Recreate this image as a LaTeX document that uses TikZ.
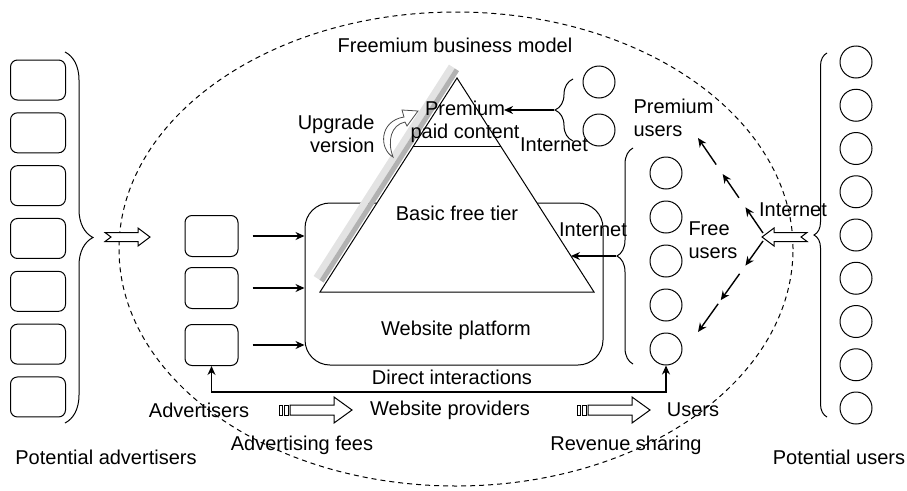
\documentclass[tikz,border=0pt]{standalone}
\usepackage{fontspec}
\setmainfont{Liberation Sans}
\usetikzlibrary{arrows.meta,calc,decorations.pathreplacing}

\begin{document}
\begin{tikzpicture}[
    x=1pt, y=-1pt,
    line width=1pt,
    lbl/.style={font=\fontsize{20}{23}\selectfont, inner sep=0pt, align=center},
    advbox/.style={draw, rounded corners=7pt, minimum width=55pt, minimum height=40pt},
    usr/.style={draw, circle, minimum size=32pt, inner sep=0pt},
    arr/.style={-{Stealth[length=9pt,width=8pt]}, line width=1.4pt},
    brc/.style={decorate, decoration={brace, amplitude=#1}},
    notcharrow/.pic={
        \draw[fill=white] (0,-4.5) -- (33,-4.5) -- (33,-9) -- (45,0) -- (33,9)
            -- (33,4.5) -- (0,4.5) -- (6,0) -- cycle;
    },
    barrow/.pic={
        \draw (0,-5) rectangle (3,5);
        \draw (5,-5) rectangle (9,5);
        \draw[fill=white] (11,-5) -- (55,-5) -- (55,-13) -- (73,0) -- (55,13)
            -- (55,5) -- (11,5) -- cycle;
    }
]
\useasboundingbox (0,0) rectangle (907,490);

% business model boundary
\draw[dashed, dash pattern=on 5pt off 4pt] (456,249) ellipse [x radius=337pt, y radius=237pt];
\node[lbl] (title) at (455,45) {Freemium business model};

% potential advertisers
\foreach \i in {0,...,6}
    \node[advbox] (pa\i) at (38,80+52.83*\i) {};
\draw[brc=28pt] (65,52) -- (65,423);
\pic at (105,237) {notcharrow};
\node[lbl] (potadv) at (106,457) {Potential advertisers};

% advertisers
\node[advbox, minimum width=53pt, minimum height=41pt] (ad1) at (211.5,236) {};
\node[advbox, minimum width=53pt, minimum height=41pt] (ad2) at (211.5,288) {};
\node[advbox, minimum width=53pt, minimum height=41pt] (ad3) at (211.5,345) {};

% website platform
\node[draw, rounded corners=25pt, minimum width=298pt, minimum height=162pt] (plat) at (454,284) {};
\foreach \i in {1,2,3}
    \draw[arr] ([xshift=14pt]ad\i.east) -- (ad\i.east -| plat.west);

% tiers
\coordinate (bl) at (320,292);
\coordinate (br) at (594,292);
\coordinate (apex) at (457,78);
\draw[gray!22, line width=7pt] (316.6,277.9) -- (451.9,66.5);
\draw[gray!60, line width=5pt] (321.6,281.2) -- (456.9,69.8);
\draw[fill=white] (bl) -- (apex) -- (br) -- cycle;
\draw ($(bl)!0.682!(apex)$) -- ($(br)!0.682!(apex)$);
\draw[gray!60!black, fill=white, line width=0.8pt] (393,157)
    .. controls (379,149) and (379,121) .. (404,117) -- (402,110) -- (418,111)
    -- (407,126) -- (405,122) .. controls (391,125) and (387,141) .. (393,157) -- cycle;

\node[lbl, align=right, anchor=east] (upg) at (375,133.5) {Upgrade\\version};
\node[lbl] (pcont) at (465,121.5) {Premium\\paid content};
\node[lbl] (basic) at (457,213) {Basic free tier};
\node[lbl] (platlbl) at (456,330) {Website platform};

% premium users
\node[usr] (pc1) at (599,82) {};
\node[usr] (pc2) at (599,130) {};
\draw[brc=18pt] (573,141) -- (573,79);
\coordinate (ptip) at (554,110);
\coordinate (pend) at (504,110);
\draw[arr] (ptip) -- (pend);
\node[lbl] (pinet) at (554,145) {Internet};
\node[lbl, align=left, anchor=west] (pusers) at (633,118) {Premium\\users};

% free users
\foreach \i in {0,...,4}
    \node[usr] (fc\i) at (666,173+44*\i) {};
\draw[brc=16pt] (633,364) -- (633,148);
\coordinate (ftip) at (616,256);
\coordinate (fend) at ($(br)!0.168!(apex)$);
\draw[arr] (ftip) -- (ftip -| fend);
\node[lbl] (finet) at (593,230) {Internet};
\node[lbl, align=left, anchor=west] (fusers) at (688,240) {Free\\users};

% potential users
\foreach \i in {0,...,8}
    \node[usr] (uc\i) at (856,62+43.25*\i) {};
\draw[brc=13pt] (827,417) -- (827,53);
\pic[rotate=180] at (807,237) {notcharrow};
\node[lbl] (uinet) at (793,210) {Internet};
\node[lbl] (potusr) at (839,457) {Potential users};

% spreading to users
\coordinate (hub) at (763,233);
\coordinate (hubd) at (763,241);
\coordinate (pu) at (698,138);
\coordinate (fu) at (698,332);
\foreach \a/\b in {0/0.27,0.37/0.62,0.72/1}
    \draw[arr] ($(hub)!\a!(pu)$) -- ($(hub)!\b!(pu)$);
\foreach \a/\b in {0/0.27,0.36/0.65,0.69/1}
    \draw[arr] ($(hubd)!\a!(fu)$) -- ($(hubd)!\b!(fu)$);

% direct interactions
\draw[{Stealth[length=9pt,width=8pt]}-{Stealth[length=9pt,width=8pt]}, line width=1.2pt]
    (ad3.south) -- ++(0,26) -| (fc4.south);
\node[lbl] (direct) at (452,377) {Direct interactions};

% value chain
\node[lbl] (adv) at (199,410) {Advertisers};
\node[lbl] (prov) at (450,410) {Website providers};
\node[lbl] (usrs) at (693,410) {Users};
\pic at (279,410) {barrow};
\pic at (577,410) {barrow};
\node[lbl] (fees) at (302,445) {Advertising fees};
\node[lbl] (share) at (626,445) {Revenue sharing};

\end{tikzpicture}
\end{document}
